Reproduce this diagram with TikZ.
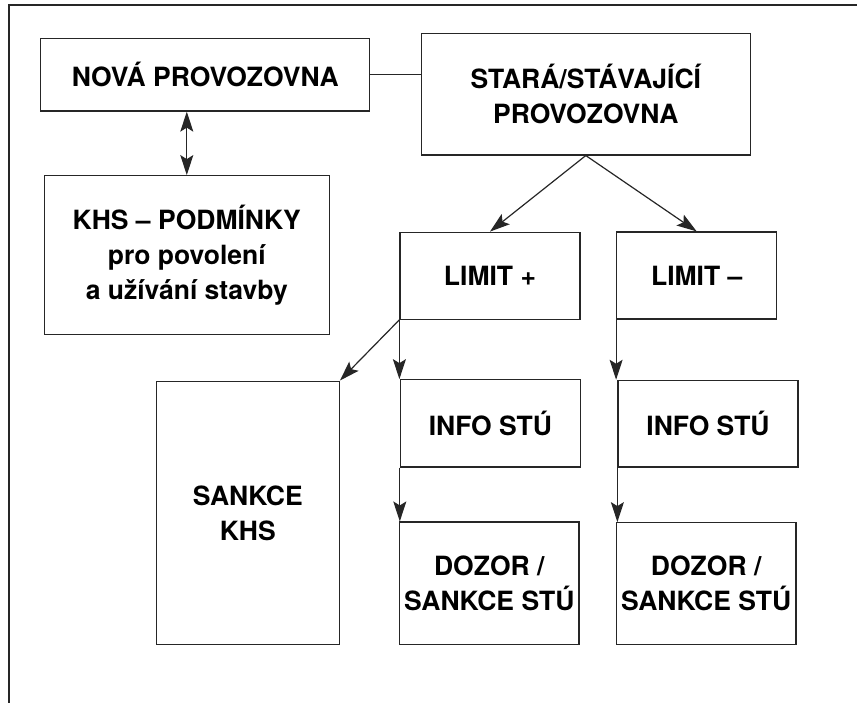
\documentclass[tikz,border=0pt]{standalone}
\usepackage{fontspec}
\setmainfont{TeX Gyre Heros}
\usetikzlibrary{arrows.meta}

\begin{document}
\begin{tikzpicture}[x=1pt, y=-1pt,
    box/.style={draw=black!85, line width=1.2pt, inner sep=2pt, align=center,
        font=\fontsize{26.5}{35}\selectfont\bfseries},
    link/.style={draw=black!85, line width=1.2pt},
    arr/.style={link, -{Stealth[length=20pt, width=13pt, inset=4pt]}},
    darr/.style={link, {Stealth[length=20pt, width=13pt, inset=4pt]}-{Stealth[length=20pt, width=13pt, inset=4pt]}}]
    \useasboundingbox (0,0) rectangle (857,703);
    % Draw the frame
    \draw[link] (857,5) -- (9,5) -- (9,703);
    % Boxes
    \node[box, minimum width=329pt, minimum height=72.7pt] (nova) at (205.2,74.7) {NOVÁ PROVOZOVNA};
    \node[box, minimum width=329pt, minimum height=121.3pt] (stara) at (585.8,94.3) {STARÁ/STÁVAJÍCÍ\\PROVOZOVNA};
    \node[box, minimum width=285pt, minimum height=158.6pt] (khs) at (186.8,255) {KHS – PODMÍNKY\\pro povolení\\a užívání stavby};
    \node[box, minimum width=180pt, minimum height=87pt] (limp) at (490,275.7) {LIMIT +};
    \node[box, minimum width=160pt, minimum height=87pt] (limm) at (696.7,275.5) {LIMIT –};
    \node[box, minimum width=183pt, minimum height=263.7pt] (sankce) at (247.8,513) {SANKCE\\KHS};
    \node[box, minimum width=180pt, minimum height=87.3pt] (infoa) at (490.4,423.4) {INFO STÚ};
    \node[box, minimum width=180pt, minimum height=86.7pt] (infob) at (708,423.7) {INFO STÚ};
    \node[box, minimum width=179.5pt, minimum height=122.7pt] (dozora) at (489.3,583.4) {DOZOR /\\SANKCE STÚ};
    \node[box, minimum width=179.6pt, minimum height=122pt] (dozorb) at (706.2,583.7) {DOZOR /\\SANKCE STÚ};
    % Connectors
    \draw[link] (nova.east) -- (nova.east -| stara.west);
    \draw[darr] (khs.north |- nova.south) -- (khs.north);
    \draw[arr] (stara.south) -- (limp.north);
    \draw[arr] (stara.south) -- (limm.north);
    \draw[arr] (limp.south west) -- (sankce.north east);
    \draw[arr] (limp.south west) -- (limp.south west |- infoa.north);
    \draw[arr] (limm.south west) -- (limm.south west |- infob.north);
    \draw[arr] (infoa.south west) -- (infoa.south west |- dozora.north);
    \draw[arr] (infob.south west) -- (infob.south west |- dozorb.north);
\end{tikzpicture}
\end{document}
